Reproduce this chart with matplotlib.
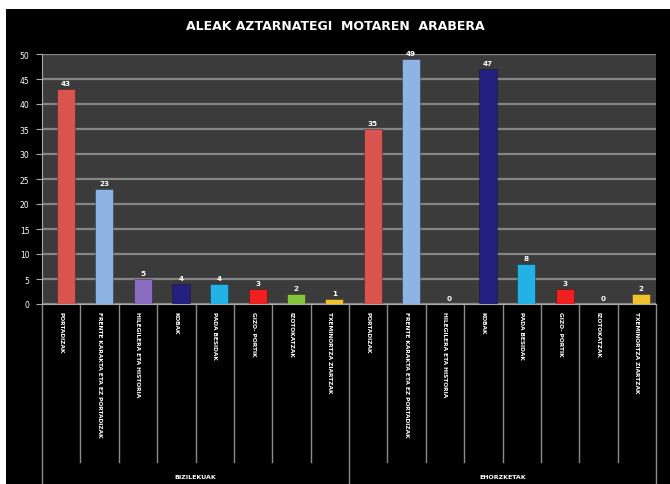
import matplotlib.pyplot as plt
from matplotlib.patches import Rectangle
import numpy as np

# datuak
kategoriak = ["PORTADIZAK", "FRENTE KARAKTA ETA EZ PORTADIZAK", "HILEGILERA ETA HISTORIA",
              "KOBAK", "PADA BESIDAK", "GIZO- PORTIK", "IZOTOKATZAK", "TXEMINORTZA ZIARTZAK"]
taldeak = ["BIZILEKUAK", "EHORZKETAK"]
bizilekuak = [43, 23, 5, 4, 4, 3, 2, 1]
ehorzketak = [35, 49, 0, 47, 8, 3, 0, 2]
koloreak = ["#d9534f", "#8db4e2", "#8a6cc0", "#232080", "#22b2e6", "#f02020", "#86c53c", "#f2c12e"]

W, H = 670, 485
fig = plt.figure(figsize=(6.7, 4.85), dpi=100, facecolor="black")
# thin white margin at top and left
fig.patches.append(Rectangle((0, 1 - 10 / H), 1, 10 / H, transform=fig.transFigure,
                             facecolor="white", edgecolor="none"))
fig.patches.append(Rectangle((0, 0), 6 / W, 1, transform=fig.transFigure,
                             facecolor="white", edgecolor="none"))

ax = fig.add_axes([42 / W, (H - 305) / H, 614 / W, 250 / H])
ax.set_facecolor("#3b3b3b")

balioak = bizilekuak + ehorzketak
kol = koloreak + koloreak
x = np.arange(len(balioak)) + 0.62
ax.bar(x, balioak, width=0.47, color=kol, edgecolor="#00000055", linewidth=0.6, zorder=3)
for xi, v in zip(x, balioak):
    ax.text(xi, v + 0.6, str(v), color="white", fontsize=5.2, ha="center", va="bottom",
            fontweight="bold", zorder=4)

ax.set_xlim(0, 16)
ax.set_ylim(0, 50)
ax.set_yticks(range(0, 51, 5))
ax.yaxis.grid(True, color="#858585", linewidth=1.6, zorder=1)
ax.set_xticks([])
ax.tick_params(axis="y", colors="white", labelsize=5.5, length=4, pad=5, color="#aaaaaa")
for s in ["top", "right"]:
    ax.spines[s].set_visible(False)
ax.spines["left"].set_color("#aaaaaa")
ax.spines["bottom"].set_color("#aaaaaa")

# category separators and labels below the axis
for i in range(17):
    luzera = -0.72 if i % 8 == 0 else -0.63
    ax.plot([i, i], [0, luzera], transform=ax.get_xaxis_transform(), clip_on=False,
            color="#8a8a8a", linewidth=1.0)
for i, izena in enumerate(kategoriak + kategoriak):
    ax.text(i + 0.5, -0.03, izena, transform=ax.get_xaxis_transform(), rotation=270,
            ha="center", va="top", color="white", fontsize=4.2, fontweight="bold")
for j, t in enumerate(taldeak):
    ax.text(j * 8 + 4, -0.69, t, transform=ax.get_xaxis_transform(), ha="center",
            va="center", color="white", fontsize=4.5, fontweight="bold")

fig.text(0.5, 1 - 26 / H, "ALEAK AZTARNATEGI  MOTAREN  ARABERA", color="white",
         fontsize=9, fontweight="bold", ha="center", va="center",
         family=["Liberation Sans Narrow", "DejaVu Sans"])

fig.savefig("out.png", dpi=100, facecolor="black")
